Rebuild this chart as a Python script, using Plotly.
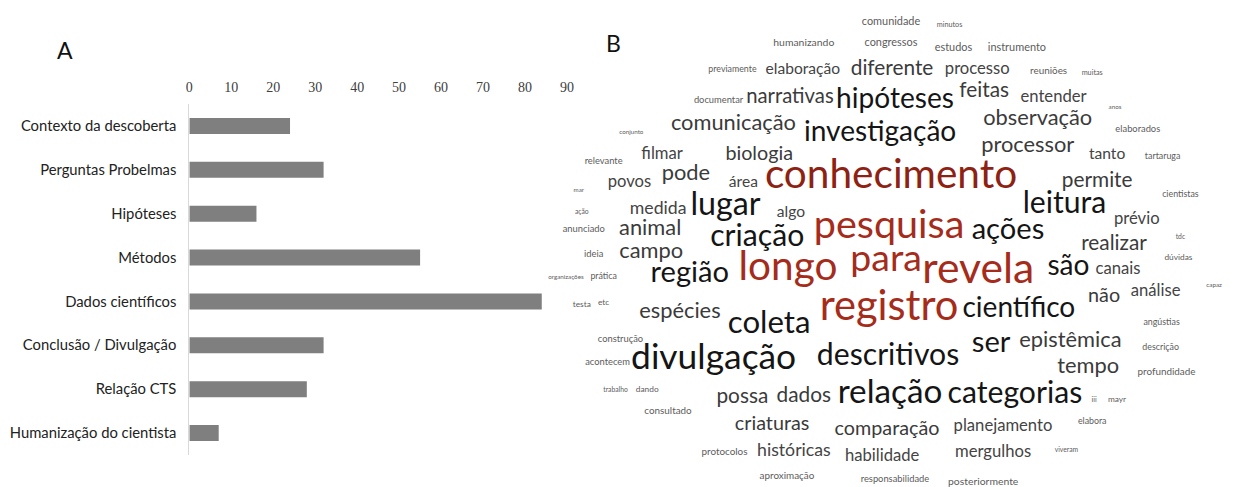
import plotly.graph_objects as go

# ---------------- Panel A data ----------------
categories = [
    "Contexto da descoberta",
    "Perguntas Probelmas",
    "Hipóteses",
    "Métodos",
    "Dados científicos",
    "Conclusão / Divulgação",
    "Relação CTS",
    "Humanização do cientista",
]
counts = [24, 32, 16, 55, 84, 32, 28, 7]
x_ticks = [0, 10, 20, 30, 40, 50, 60, 70, 80, 90]

# ---------------- Panel B data (word cloud) ----------------
words = [
    "comunidade", "minutos", "humanizando", "congressos", "estudos", "instrumento",
    "previamente", "elaboração", "diferente", "processo", "reuniões", "muitas",
    "documentar", "narrativas", "hipóteses", "feitas", "entender", "anos",
    "conjunto", "comunicação", "investigação", "observação", "elaborados",
    "processor", "tanto", "tartaruga", "relevante", "filmar", "biologia",
    "mar", "povos", "pode", "área", "conhecimento", "permite", "cientistas",
    "ação", "medida", "lugar", "algo", "leitura", "prévio",
    "anunciado", "animal", "criação", "pesquisa", "ações", "realizar", "tdc",
    "ideia", "campo", "organizações", "prática", "região", "longo", "para",
    "revela", "são", "canais", "dúvidas", "capaz", "não", "análise",
    "testa", "etc", "espécies", "coleta", "registro", "científico",
    "construção", "angústias", "acontecem", "divulgação", "descritivos", "ser",
    "epistêmica", "descrição", "tempo", "profundidade",
    "trabalho", "dando", "consultado", "possa", "dados", "relação", "categorias",
    "iii", "mayr", "criaturas", "comparação", "planejamento", "elabora",
    "protocolos", "históricas", "habilidade", "mergulhos", "viveram",
    "aproximação", "responsabilidade", "posteriormente",
]
word_freq = [
    10.5, 7, 10, 10.5, 10.5, 10.5,
    8.5, 15, 20, 16, 9.5, 7,
    9, 19.5, 27, 20, 16, 6,
    6, 21, 27, 21, 9,
    21, 15, 8.5, 9, 16, 19,
    6, 16, 21, 15, 39, 20, 8.5,
    6.5, 17, 31, 15, 29, 16,
    9, 21, 29, 38, 28, 20, 6.5,
    9, 21, 6, 8.5, 28, 39, 36,
    41, 27, 16, 8, 6, 19, 16,
    8, 8, 21, 30, 40, 27,
    9, 8.5, 9, 34, 29, 28,
    21, 8.5, 21, 9.5,
    6.5, 8, 9.5, 20, 20, 32, 29,
    7, 8, 19, 19, 16, 8.5,
    9.5, 17, 16, 16, 6.5,
    9.5, 9, 10,
]

# layout of the cloud (pixel-like coordinates of the cloud canvas)
word_x = [
    895, 954, 807, 895, 958, 1022,
    735, 806, 896, 982, 1054, 1098,
    721, 793, 899, 989, 1059, 1121,
    633, 736, 884, 1043, 1144,
    1033, 1113, 1169, 605, 664, 762,
    580, 631, 688, 746, 895, 1103, 1187,
    583, 660, 728, 794, 1070, 1143,
    585, 652, 760, 893, 1013, 1120, 1187,
    595, 653, 567, 605, 692, 791, 890,
    983, 1074, 1124, 1185, 1221, 1110, 1162,
    583, 605, 682, 772, 893, 1024,
    622, 1168, 609, 716, 892, 996,
    1076, 1167, 1094, 1173,
    617, 649, 670, 745, 807, 894, 1020,
    1100, 1123, 775, 891, 1008, 1098,
    727, 797, 886, 998, 1072,
    790, 899, 988,
]
word_y = [
    22, 25, 43, 43, 48, 48,
    70, 70, 70, 70, 72, 73,
    101, 98, 101, 92, 98, 107,
    132, 125, 134, 120, 130,
    147, 155, 157, 162, 155, 155,
    190, 183, 175, 183, 178, 182, 195,
    212, 210, 207, 213, 205, 220,
    230, 230, 238, 228, 232, 245, 237,
    255, 253, 277, 277, 275, 270, 262,
    272, 268, 270, 258, 285, 297, 292,
    305, 303, 313, 325, 310, 310,
    340, 323, 363, 360, 357, 345,
    342, 348, 368, 373,
    390, 390, 412, 398, 397, 395, 395,
    400, 400, 425, 430, 427, 422,
    453, 452, 457, 453, 450,
    477, 480, 482,
]


def word_color(f):
    if f > 34:
        return "#a52c1b"
    if f >= 26:
        return "#151515"
    if f >= 18:
        return "#3b3b3b"
    if f >= 12:
        return "#444444"
    return "#5c5c5c"


word_sizes = [f * 1.04 for f in word_freq]
word_colors = [word_color(f) for f in word_freq]
word_colors[words.index("conhecimento")] = "#8e2212"

W, H = 1234, 487

fig = go.Figure()

fig.add_trace(go.Bar(
    x=counts,
    y=categories,
    orientation="h",
    marker=dict(color="#7f7f7f", line=dict(width=0)),
    hoverinfo="skip",
    xaxis="x",
    yaxis="y",
))

fig.add_trace(go.Scatter(
    x=word_x,
    y=word_y,
    mode="text",
    text=words,
    textposition="middle center",
    textfont=dict(family="Lato", size=word_sizes, color=word_colors),
    hoverinfo="skip",
    xaxis="x2",
    yaxis="y2",
))

fig.update_layout(
    width=W,
    height=H,
    margin=dict(l=0, r=0, t=0, b=0),
    paper_bgcolor="white",
    plot_bgcolor="rgba(0,0,0,0)",
    showlegend=False,
    bargap=0.635,
    xaxis=dict(
        domain=[187 / W, 568 / W],
        range=[0, 90],
        side="top",
        tickvals=x_ticks,
        ticktext=[str(t) for t in x_ticks],
        tickfont=dict(family="Liberation Serif", size=14, color="#404040"),
        showgrid=False,
        zeroline=False,
        showline=False,
        ticks="",
        ticklabelstandoff=8,
        fixedrange=True,
    ),
    yaxis=dict(
        domain=[1 - 455 / H, 1 - 104 / H],
        categoryorder="array",
        categoryarray=categories[::-1],
        tickfont=dict(family="Lato", size=14.8, color="#222222"),
        showgrid=False,
        zeroline=False,
        showline=True,
        linecolor="#d9d9d9",
        linewidth=1,
        ticks="",
        ticklabelstandoff=9,
        fixedrange=True,
    ),
    xaxis2=dict(
        domain=[0, 1],
        range=[0, W],
        visible=False,
        anchor="y2",
        fixedrange=True,
    ),
    yaxis2=dict(
        domain=[0, 1],
        range=[H, 0],
        visible=False,
        anchor="x2",
        fixedrange=True,
    ),
    annotations=[
        dict(text="A", x=62 / W, y=1 - 50 / H, xref="paper", yref="paper",
             xanchor="center", yanchor="middle",
             showarrow=False, font=dict(family="Lato", size=23, color="#111111")),
        dict(text="B", x=615 / W, y=1 - 43 / H, xref="paper", yref="paper",
             xanchor="center", yanchor="middle",
             showarrow=False, font=dict(family="Lato", size=23, color="#111111")),
    ],
)

fig.write_html(
    "out.html",
    config={"displayModeBar": False},
    post_script="document.body.style.margin='0';",
)
